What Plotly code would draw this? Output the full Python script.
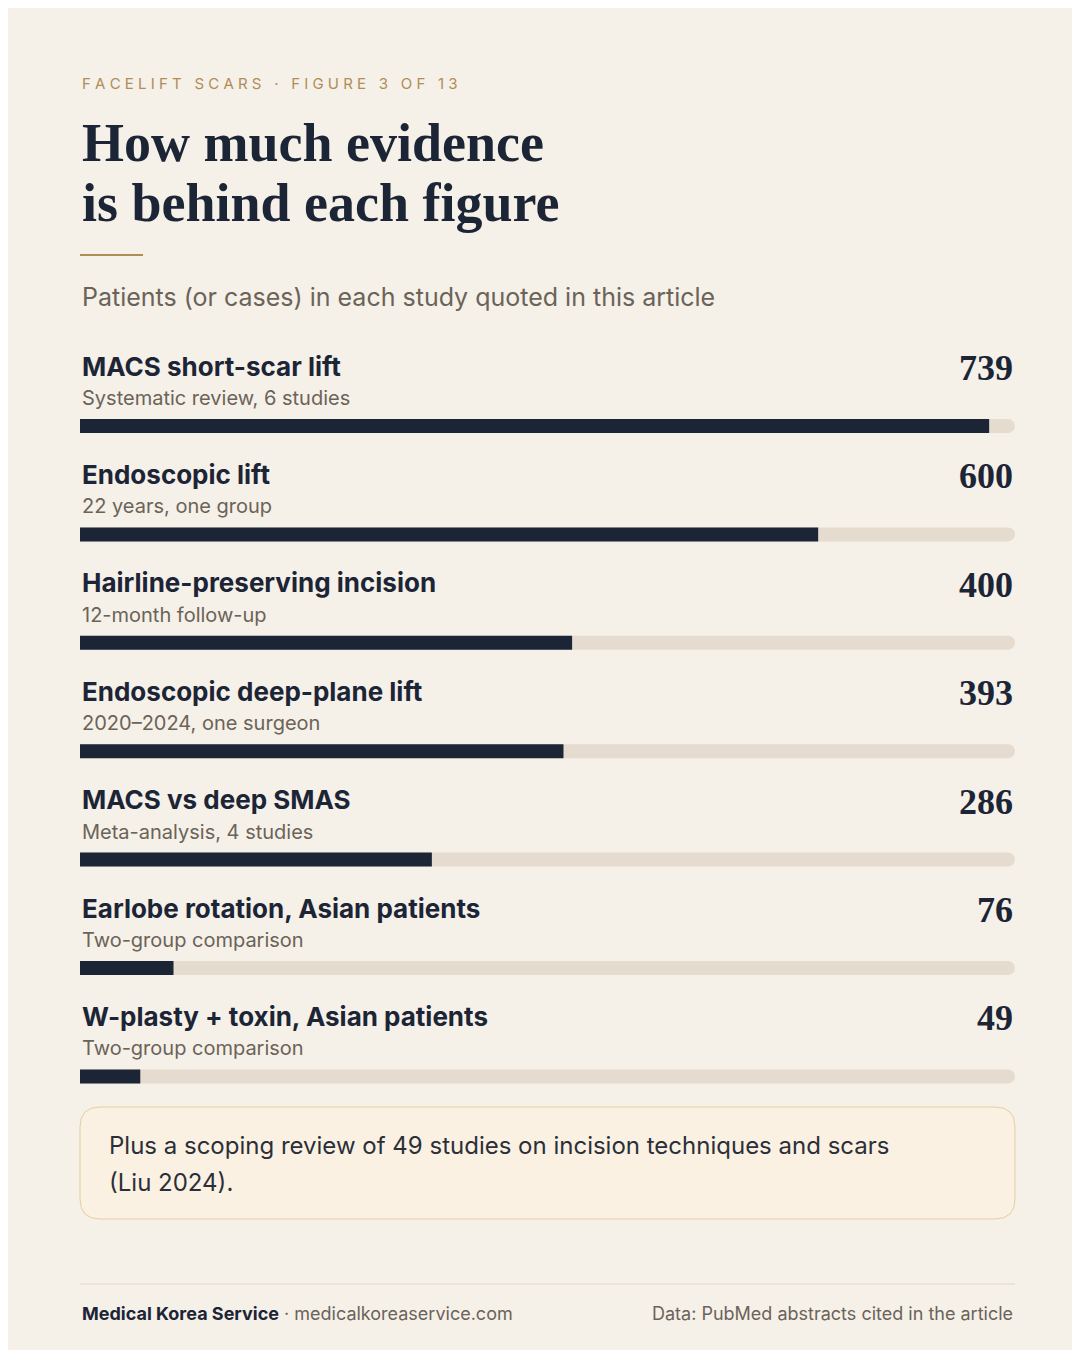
import plotly.graph_objects as go

labels = ["MACS short-scar lift", "Endoscopic lift", "Hairline-preserving incision",
          "Endoscopic deep-plane lift", "MACS vs deep SMAS",
          "Earlobe rotation, Asian patients", "W-plasty + toxin, Asian patients"]
notes = ["Systematic review, 6 studies", "22 years, one group", "12-month follow-up",
         "2020\u20132024, one surgeon", "Meta-analysis, 4 studies",
         "Two-group comparison", "Two-group comparison"]
values = [739, 600, 400, 393, 286, 76, 49]
track_max = 760

BG = "#f5f0e8"
DARK = "#1c2536"
GOLD = "#b08d57"
GREY = "#6b6358"
SANS = "Inter, Noto Sans, sans-serif"
SERIF = "Liberation Serif, DejaVu Serif, serif"

# bar centres in pixel space (y axis runs 0..1350 top-down)
ys = [418 + i * 108.4 for i in range(len(values))]

fig = go.Figure()
fig.add_trace(go.Bar(x=[track_max] * len(values), y=ys, orientation="h", width=14,
                     marker=dict(color="#e5dccf", line_width=0), hoverinfo="skip"))
fig.add_trace(go.Bar(x=values, y=ys, orientation="h", width=14,
                     marker=dict(color=DARK, line_width=0)))

ann = []
def txt(x, y, s, size, color, font=SANS, anchor="left", yanchor="middle"):
    ann.append(dict(x=x, y=y, xref="paper", yref="y", text=s, showarrow=False,
                    xanchor=anchor, yanchor=yanchor,
                    font=dict(size=size, color=color, family=font)))

L, R = 72 / 1080, 1007 / 1080
txt(L, 75, "F A C E L I F T   S C A R S   \u00b7   F I G U R E   3   O F   1 3", 15, GOLD)
txt(L, 135, "<b>How much evidence</b>", 54, DARK, SERIF)
txt(L, 195, "<b>is behind each figure</b>", 54, DARK, SERIF)
txt(L, 289, "Patients (or cases) in each study quoted in this article", 25, GREY)
for y, lab, n, v in zip(ys, labels, notes, values):
    txt(L, y - 60, "<b>" + lab + "</b>", 26, DARK)
    txt(L, y - 28, n, 20, GREY)
    txt(R, y - 58, "<b>" + str(v) + "</b>", 36, DARK, SERIF, anchor="right")
txt(L + 27 / 1080, 1137, "Plus a scoping review of 49 studies on incision techniques and scars", 24, "#2b2f38")
txt(L + 27 / 1080, 1174, "(Liu 2024).", 24, "#2b2f38")
txt(L, 1305, "<b>Medical Korea Service</b> <span style='color:#6b6358'>\u00b7 medicalkoreaservice.com</span>", 18, DARK)
txt(R, 1305, "Data: PubMed abstracts cited in the article", 18, GREY, anchor="right")

def rrect(x0, y0, x1, y1, r):
    return (f"M{x0+r},{y0} L{x1-r},{y0} Q{x1},{y0} {x1},{y0+r} L{x1},{y1-r} Q{x1},{y1} {x1-r},{y1} "
            f"L{x0+r},{y1} Q{x0},{y1} {x0},{y1-r} L{x0},{y0+r} Q{x0},{y0} {x0+r},{y0} Z")

shapes = [
    dict(type="line", xref="paper", yref="y", x0=L, x1=135 / 1080, y0=247, y1=247,
         line=dict(color=GOLD, width=2)),
    dict(type="path", xref="x domain", yref="y", path=rrect(-0.0, 1099, 1.0, 1211, 0.02).replace("", ""),
         visible=False),
    dict(type="line", xref="paper", yref="y", x0=L, x1=R, y0=1276, y1=1276,
         line=dict(color="#e0d8cb", width=1)),
]
# callout box drawn in pixel coordinates via a pixel-space path on paper
px = lambda x: x / 1080
py = lambda y: 1 - y / 1350
box = (f"M{px(92)},{py(1099)} L{px(987)},{py(1099)} Q{px(1007)},{py(1099)} {px(1007)},{py(1119)} "
       f"L{px(1007)},{py(1191)} Q{px(1007)},{py(1211)} {px(987)},{py(1211)} L{px(92)},{py(1211)} "
       f"Q{px(72)},{py(1211)} {px(72)},{py(1191)} L{px(72)},{py(1119)} Q{px(72)},{py(1099)} {px(92)},{py(1099)} Z")
shapes[1] = dict(type="path", xref="paper", yref="paper", path=box,
                 fillcolor="#faf1e3", line=dict(color="#e6cf9f", width=1), layer="below")

fig.update_layout(
    width=1080, height=1350, margin=dict(l=0, r=0, t=0, b=0),
    paper_bgcolor=BG, plot_bgcolor=BG, showlegend=False,
    barmode="overlay", barcornerradius=7,
    xaxis=dict(domain=[L, R], range=[0, track_max], visible=False, fixedrange=True),
    yaxis=dict(domain=[0, 1], range=[1350, 0], visible=False, fixedrange=True),
    annotations=ann, shapes=shapes,
)
fig.write_html("out.html")
